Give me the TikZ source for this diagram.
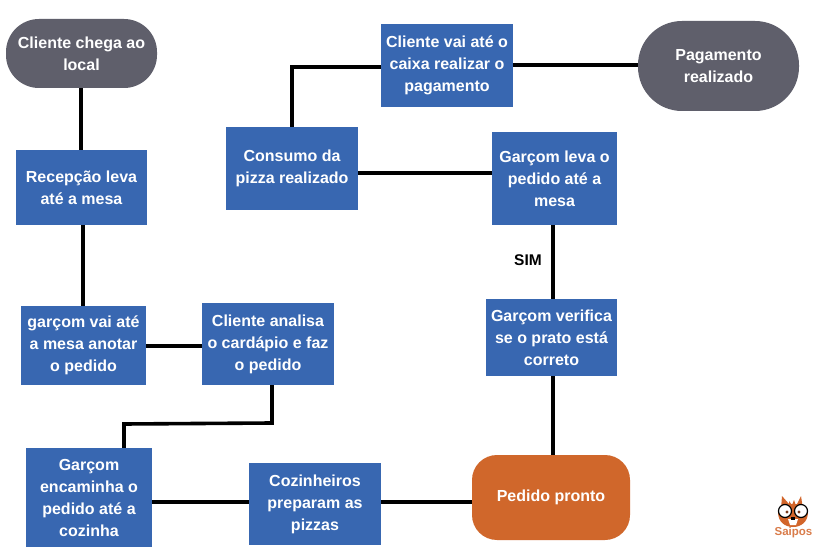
\documentclass[tikz,border=0pt]{standalone}
\usepackage{fontspec}
\setmainfont{Liberation Sans}
\definecolor{boxblue}{HTML}{3867B1}
\definecolor{pillgray}{HTML}{5F5F6B}
\definecolor{pillorange}{HTML}{D0672B}
\definecolor{logoorange}{HTML}{D2652A}
\definecolor{logobrown}{HTML}{7A3A1C}
\tikzset{
  x=1pt,y=-1pt,
  lbl/.style={font=\bfseries\fontsize{16}{22}\selectfont,text=white,align=center,inner sep=0pt},
  bluebox/.style={lbl,fill=boxblue,draw=none},
  pill/.style={lbl,draw=none},
  conn/.style={draw=black,line width=3.6pt,line cap=butt,line join=miter}
}
% x1 y1 x2 y2: place a sized node by its corners
\newcommand{\bx}[7]{%
  \pgfmathsetmacro{\myw}{#4-#2}\pgfmathsetmacro{\myh}{#5-#3}%
  \node[#6,minimum width=\myw pt,minimum height=\myh pt] (#1) at ({(#2+#4)/2},{(#3+#5)/2}) {#7};}
\begin{document}
\begin{tikzpicture}
\useasboundingbox (0,0) rectangle (830,553);
\fill[white] (0,0) rectangle (830,553);

\coordinate (xa) at (81,0);
\coordinate (xb) at (83,0);
\coordinate (xc) at (272,423);
\coordinate (xd) at (124,424);
\coordinate (xe) at (553,0);
\coordinate (xf) at (292,67);
\coordinate (ya) at (0,346);
\coordinate (yb) at (0,502);
\coordinate (yc) at (0,173);
\coordinate (yd) at (0,65);

\bx{chega}{6}{19}{157}{88}{pill,fill=pillgray,rounded corners=33pt}{Cliente chega ao\\local}
\bx{recep}{16}{150}{147}{225}{bluebox}{Recepção leva\\até a mesa}
\bx{vai}{21}{306}{146}{385}{bluebox}{garçom vai até\\a mesa anotar\\o pedido}
\bx{analisa}{202}{303}{334}{385}{bluebox}{Cliente analisa\\o cardápio e faz\\o pedido}
\bx{encam}{26}{448}{152}{547}{bluebox}{Garçom\\encaminha o\\pedido até a\\cozinha}
\bx{cozin}{249}{463}{381}{545}{bluebox}{Cozinheiros\\preparam as\\pizzas}
\bx{pronto}{472}{455}{630}{540}{pill,fill=pillorange,rounded corners=25pt}{Pedido pronto}
\bx{verif}{486}{299}{617}{376}{bluebox}{Garçom verifica\\se o prato está\\correto}
\bx{leva}{492}{132}{617}{225}{bluebox}{Garçom leva o\\pedido até a\\mesa}
\bx{consumo}{226}{127}{358}{210}{bluebox}{Consumo da\\pizza realizado}
\bx{caixa}{381}{24}{513}{107}{bluebox}{Cliente vai até o\\caixa realizar o\\pagamento}
\bx{pago}{638}{21}{799}{111}{pill,fill=pillgray,rounded corners=44pt}{Pagamento\\realizado}

\draw[conn] (xa |- chega.south) -- (xa |- recep.north);
\draw[conn] (xb |- recep.south) -- (xb |- vai.north);
\draw[conn] (vai.east |- ya) -- (analisa.west |- ya);
\draw[conn] (xc |- analisa.south) -- (xc) -- (xd) -- (xd |- encam.north);
\draw[conn] (encam.east |- yb) -- (cozin.west |- yb);
\draw[conn] (cozin.east |- yb) -- (pronto.west |- yb);
\draw[conn] (xe |- pronto.north) -- (xe |- verif.south);
\draw[conn] (xe |- verif.north) -- (xe |- leva.south);
\draw[conn] (leva.west |- yc) -- (consumo.east |- yc);
\draw[conn] (xf |- consumo.north) -- (xf) -- (caixa.west |- xf);
\draw[conn] (caixa.east |- yd) -- (pago.west |- yd);

\node[font=\bfseries\fontsize{15.5}{18}\selectfont,inner sep=0pt] (sim) at (528,260) {SIM};

% logo
\begin{scope}[shift={(793,514)}]
  \fill[logoorange] (-11,-18) -- (-4,-10) -- (4,-10) -- (8,-18) -- (10,-5) -- (-12,-5) -- cycle;
  \fill[logoorange] (-4,-13) -- (-1,-9) -- (1,-14) -- (3,-8) -- (3,-3) -- (-4,-3) -- cycle;
  \fill[logoorange] (-15,-2) .. controls (-14,-11) and (14,-11) .. (15,-2) .. controls (15,8) and (8,13) .. (0,13) .. controls (-8,13) and (-15,8) .. (-15,-2) -- cycle;
  \fill[white] (-5,5) -- (5,5) -- (3,11) -- (-3,11) -- cycle;
  \fill[black] (-2,3) rectangle (2,6);
  \draw[black,line width=1.2pt,fill=white] (-8,-3) circle (6.5);
  \draw[black,line width=1.2pt,fill=white] (8,-3) circle (6.5);
  \fill[logobrown] (-6,-2) circle (1.6) (6,-2) circle (1.6);
\end{scope}
\node[font=\bfseries\fontsize{11.5}{12}\selectfont,text=logoorange!85!white,inner sep=0pt] (saipos) at (793.5,533) {Saipos};
\end{tikzpicture}
\end{document}
